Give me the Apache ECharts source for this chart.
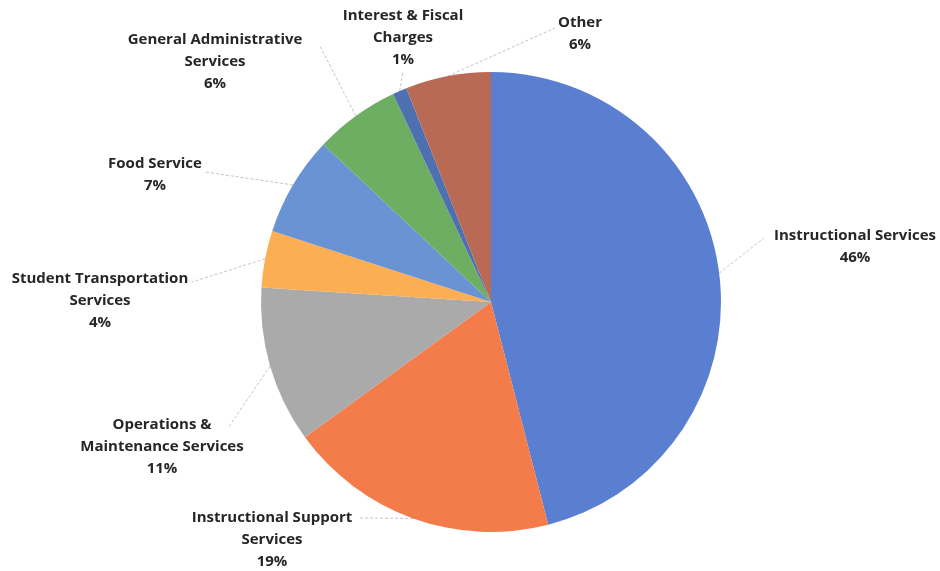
<!DOCTYPE html>
<html>
<head>
<meta charset="utf-8">
<script src="https://cdn.jsdelivr.net/npm/echarts@6/dist/echarts.min.js"></script>
<style>
  html, body { margin: 0; padding: 0; background: #fff; }
  #container { width: 940px; height: 571px; }
</style>
</head>
<body>
<div id="container"></div>
<script>
// data, clockwise from 12 o'clock
var categories = [
    'Instructional Services',
    'Instructional Support\nServices',
    'Operations &\nMaintenance Services',
    'Student Transportation\nServices',
    'Food Service',
    'General Administrative\nServices',
    'Interest & Fiscal\nCharges',
    'Other'
];
var shares = [46, 19, 11, 4, 7, 6, 1, 6];

var colors = ['#5B7FD0', '#F47B4A', '#AAAAAA', '#FCAE52', '#6A93D3', '#6DAE62', '#4E6FB0', '#B86A55'];

// where the label text sits (centre of block) and where its leader line ends
var labelCenter = [[855, 247], [272, 540], [162, 447], [100, 301], [155, 175], [215, 62], [403, 38], [580, 34]];
var lineEnd = [[764, 238], [358, 518], [228, 428], [192, 282], [205, 172], [320, 46], [403, 72], [555, 28]];

var dom = document.getElementById('container');
var myChart = echarts.init(dom);

var pieData = [];
for (var i = 0; i < categories.length; i++) {
    pieData.push({
        name: categories[i],
        value: shares[i],
        itemStyle: { color: colors[i] }
    });
}

var option = {
    animation: false,
    series: [{
        type: 'pie',
        center: [491, 302],
        radius: 230,
        startAngle: 90,
        clockwise: true,
        data: pieData,
        label: {
            show: true,
            formatter: function (params) {
                return params.name + '\n' + Math.round(params.percent) + '%';
            },
            fontFamily: '"Open Sans", sans-serif',
            fontWeight: 'bold',
            fontSize: 15,
            lineHeight: 22,
            color: '#262626',
            align: 'center',
            overflow: 'none'
        },
        labelLine: {
            show: true,
            lineStyle: { color: '#c4c4c4', width: 1, type: [3, 2] }
        },
        labelLayout: function (params) {
            var k = params.dataIndex;
            var p0 = params.labelLinePoints ? params.labelLinePoints[0] : lineEnd[k];
            return {
                x: labelCenter[k][0],
                y: labelCenter[k][1],
                align: 'center',
                verticalAlign: 'middle',
                labelLinePoints: [p0, lineEnd[k], lineEnd[k]]
            };
        }
    }]
};

myChart.setOption(option);
</script>
</body>
</html>
